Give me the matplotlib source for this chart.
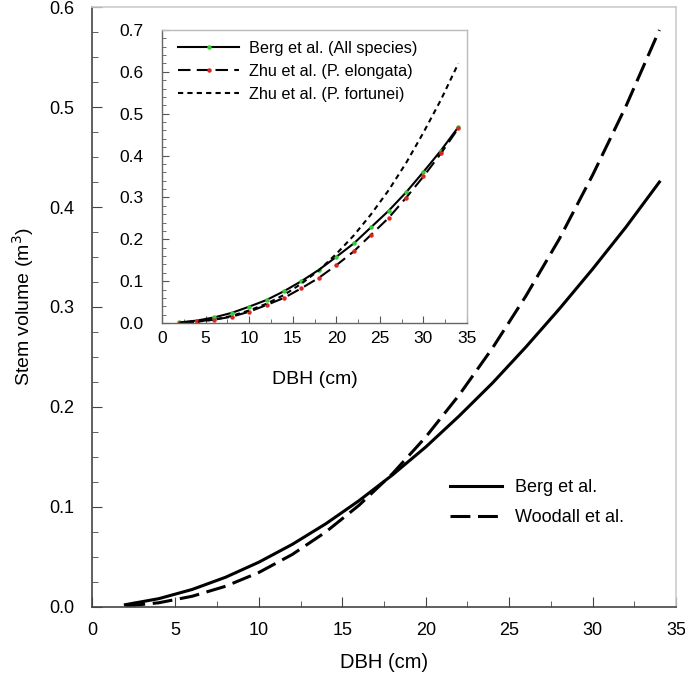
import matplotlib
matplotlib.use('Agg')
import matplotlib.pyplot as plt
import matplotlib.ticker as ticker

plt.rcParams['font.family'] = ['Liberation Sans', 'DejaVu Sans']

# main panel
dbh = [2, 4, 6, 8, 10, 12, 14, 16, 18, 20, 22, 24, 26, 28, 30, 32, 34]
berg = [0.0023, 0.0083, 0.0175, 0.0297, 0.0448, 0.0626, 0.0831, 0.1063, 0.132,
        0.160, 0.191, 0.224, 0.260, 0.298, 0.338, 0.380, 0.425]
woodall = [0.0009, 0.0042, 0.0107, 0.0207, 0.0345, 0.0525, 0.0749, 0.1017, 0.1332,
           0.170, 0.212, 0.259, 0.311, 0.368, 0.432, 0.501, 0.577]

# inset panel
berg_all = [0.0014, 0.0058, 0.0134, 0.0242, 0.039, 0.055, 0.076, 0.100, 0.127,
            0.158, 0.190, 0.229, 0.268, 0.312, 0.361, 0.412, 0.468]
zhu_elongata = [0.001, 0.004, 0.008, 0.015, 0.027, 0.043, 0.060, 0.083, 0.108,
                0.138, 0.171, 0.211, 0.251, 0.299, 0.350, 0.405, 0.465]
zhu_fortunei = [0.0005, 0.003, 0.008, 0.017, 0.030, 0.046, 0.067, 0.094, 0.126,
                0.165, 0.209, 0.260, 0.317, 0.382, 0.455, 0.533, 0.620]


def style_axes(ax, dark='#444444', light='#cccccc', lw=1.2):
    ax.spines['left'].set_color(dark)
    ax.spines['bottom'].set_color(dark)
    ax.spines['top'].set_color(light)
    ax.spines['right'].set_color(light)
    for s in ax.spines.values():
        s.set_linewidth(lw)


fig = plt.figure(figsize=(6.85, 6.81), dpi=100)
ax = fig.add_axes([0.1343, 0.1087, 0.8527, 0.881])

ax.plot(dbh, berg, color='black', lw=2.2, label='Berg et al.')
ax.plot(dbh, woodall, color='black', lw=2.2, dashes=(6.5, 2.5), label='Woodall et al.')

ax.set_xlim(0, 35)
ax.set_ylim(0, 0.6)
ax.xaxis.set_major_locator(ticker.MultipleLocator(5))
ax.xaxis.set_minor_locator(ticker.MultipleLocator(2.5))
ax.yaxis.set_major_locator(ticker.MultipleLocator(0.1))
ax.yaxis.set_minor_locator(ticker.MultipleLocator(0.025))
ax.yaxis.set_major_formatter(ticker.FormatStrFormatter('%.1f'))
ax.tick_params(which='both', direction='in', color='#444444', labelsize=13)
ax.tick_params(which='major', length=7, pad=13)
ax.tick_params(which='minor', length=4)
ax.tick_params(axis='x', which='major', pad=11)
ax.set_xlabel('DBH (cm)', fontsize=14.5, labelpad=10)
ax.set_ylabel('Stem volume (m$^3$)', fontsize=14, labelpad=9)
style_axes(ax)
ax.legend(loc='upper left', bbox_to_anchor=(0.6, 0.225), frameon=False,
          fontsize=13, handlelength=2.9, handletextpad=0.7, labelspacing=0.7,
          borderaxespad=0)

# inset
ins = fig.add_axes([0.2365, 0.5257, 0.4453, 0.4303])
ins.plot(dbh, berg_all, color='black', lw=1.5, marker='o', ms=2.2,
         mfc='#33cc33', mec='#33cc33', label='Berg et al. (All species)')
ins.plot(dbh, zhu_elongata, color='black', lw=1.5, dashes=(6, 3), marker='o', ms=2.2,
         mfc='#dd2222', mec='#dd2222', label='Zhu et al. (P. elongata)')
ins.plot(dbh, zhu_fortunei, color='black', lw=1.5, dashes=(2.5, 2), label='Zhu et al. (P. fortunei)')

ins.set_xlim(0, 35)
ins.set_ylim(0, 0.7)
ins.xaxis.set_major_locator(ticker.MultipleLocator(5))
ins.xaxis.set_minor_locator(ticker.MultipleLocator(2.5))
ins.yaxis.set_major_locator(ticker.MultipleLocator(0.1))
ins.yaxis.set_minor_locator(ticker.MultipleLocator(0.02))
ins.yaxis.set_major_formatter(ticker.FormatStrFormatter('%.1f'))
ins.tick_params(which='both', direction='in', color='#555555', labelsize=12.5)
ins.tick_params(which='major', length=5)
ins.tick_params(which='minor', length=3)
ins.tick_params(axis='y', which='major', pad=13)
ins.tick_params(axis='x', which='major', pad=6)
ins.set_xlabel('DBH (cm)', fontsize=14, labelpad=18)
style_axes(ins, dark='#666666', light='#bbbbbb', lw=1.0)
ins.legend(loc='upper left', bbox_to_anchor=(0.03, 0.985), frameon=False, fontsize=11.7,
           handlelength=3.8, handletextpad=0.6, labelspacing=0.5, borderaxespad=0)

fig.savefig('out.png', dpi=100)
